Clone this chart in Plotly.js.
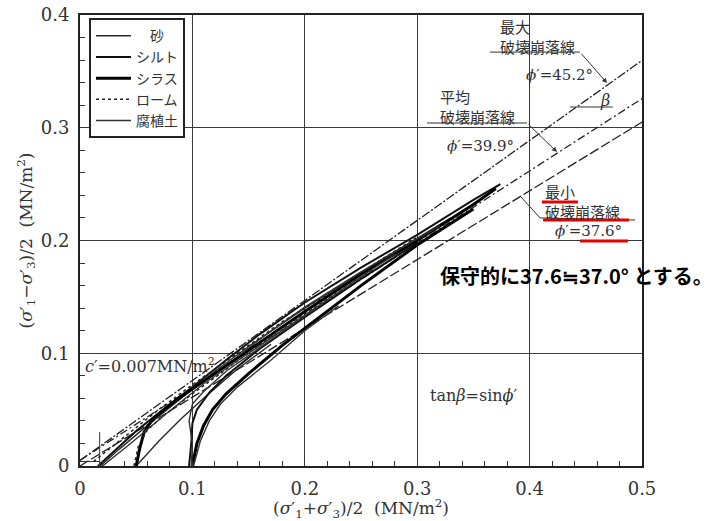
<!DOCTYPE html>
<html><head><meta charset="utf-8">
<script src="https://cdn.plot.ly/plotly-3.0.1.min.js"></script>
<style>html,body{margin:0;padding:0;background:#fff}#c{width:713px;height:521px}</style>
</head><body><div id="c"></div>
<script>
// ---- tick labels ----
const xTickVals = [0, 0.1, 0.2, 0.3, 0.4, 0.5];
const xTickText = ['0', '0.1', '0.2', '0.3', '0.4', '0.5'];
const yTickVals = [0, 0.1, 0.2, 0.3, 0.4];
const yTickText = ['0', '0.1', '0.2', '0.3', '0.4'];

// ---- failure envelopes (φ' in degrees, intercept a in MN/m²) ----
const envNames = ['最大破壊崩落線', '平均破壊崩落線', '最小破壊崩落線'];
const envPhi = [45.2, 39.9, 37.6];
const envIntercept = [0.0049, 0.0051, 0.0];
const envXStart = [0, 0, 0];
const envXEnd = [0.5, 0.5, 0.5];

// ---- stress paths (null separates paths) ----
const soilNames = ['　砂', 'シルト', 'シラス', 'ローム', '腐植土'];
const sandX = [0.018, 0.035, 0.06, 0.09, 0.12, 0.15, 0.2, 0.25, 0.3, 0.33, null,
               0.05, 0.07, 0.09, 0.11, 0.14, 0.17];
const sandY = [0, 0.015, 0.036, 0.06, 0.084, 0.106, 0.14, 0.172, 0.202, 0.22, null,
               0, 0.022, 0.042, 0.06, 0.086, 0.108];
const siltX = [0.016, 0.03, 0.05, 0.08, 0.1, 0.13, 0.16, 0.2, 0.25, 0.3, 0.35, 0.374, 0.366, null,
               0.097, 0.099, 0.1, 0.104, 0.115, 0.13, 0.16, 0.2, 0.25, 0.3];
const siltY = [0, 0.013, 0.031, 0.055, 0.07, 0.094, 0.117, 0.145, 0.176, 0.205, 0.236, 0.25, 0.245, null,
               0, 0.02, 0.038, 0.05, 0.065, 0.08, 0.104, 0.132, 0.166, 0.198];
const shirasuX = [0.05, 0.053, 0.057, 0.065, 0.085, 0.12, 0.16, 0.2, 0.25, 0.3, 0.35, 0.37, null,
                  0.1, 0.104, 0.11, 0.118, 0.13, 0.15, 0.18, 0.21, 0.25, 0.3, 0.35];
const shirasuY = [0, 0.015, 0.03, 0.042, 0.058, 0.082, 0.11, 0.137, 0.17, 0.2, 0.232, 0.246, null,
                  0, 0.02, 0.036, 0.05, 0.064, 0.082, 0.107, 0.13, 0.16, 0.196, 0.228];
const loamX = [0.012, 0.04, 0.07, 0.1, 0.14, 0.18, 0.22, 0.26, 0.3, null,
               0.048, 0.052, 0.06, 0.075, 0.1, 0.14, 0.18, 0.22, 0.26];
const loamY = [0.004, 0.026, 0.05, 0.072, 0.1, 0.128, 0.152, 0.178, 0.203, null,
               0, 0.018, 0.032, 0.045, 0.064, 0.093, 0.122, 0.148, 0.174];
const humusX = [0.02, 0.045, 0.075, 0.11, 0.15, 0.2, 0.25, 0.28, null,
                0.099, 0.1, 0.097, 0.1, 0.11, 0.13, 0.17, 0.21, null,
                0.101, 0.107, 0.115, 0.125, 0.14, 0.17, 0.2, 0.23, null,
                0.14, 0.17, 0.2, 0.24, 0.28, 0.32];
const humusY = [0, 0.02, 0.045, 0.073, 0.1, 0.134, 0.168, 0.188, null,
                0, 0.02, 0.04, 0.055, 0.066, 0.084, 0.112, 0.14, null,
                0, 0.022, 0.04, 0.055, 0.07, 0.094, 0.12, 0.142, null,
                0.097, 0.12, 0.141, 0.166, 0.19, 0.213];

// ---- α marker near origin ----
const alphaMarkX = [0.0175, 0.0175];
const alphaMarkY = [-0.004, 0.03];

const soilX = [sandX, siltX, shirasuX, loamX, humusX];
const soilY = [sandY, siltY, shirasuY, loamY, humusY];
const soilStyle = [
  {color: '#2a2a2a', width: 1.4},
  {color: '#111', width: 2},
  {color: '#000', width: 3},
  {color: '#222', width: 1.5, dash: 'dot'},
  {color: '#333', width: 1.4}
];
const envStyle = [
  {color: '#222', width: 1.3, dash: '9px,2px,2px,2px'},
  {color: '#222', width: 1.3, dash: '8px,3px,2px,3px'},
  {color: '#222', width: 1.3, dash: '10px,3px'}
];

const traces = [];
for (let i = 0; i < envNames.length; i++) {
  const s = Math.sin(envPhi[i] * Math.PI / 180);
  traces.push({
    x: [envXStart[i], envXEnd[i]],
    y: [envIntercept[i] + s * envXStart[i], envIntercept[i] + s * envXEnd[i]],
    mode: 'lines', line: envStyle[i], showlegend: false, hoverinfo: 'skip', name: envNames[i]
  });
}
for (let i = 0; i < soilNames.length; i++) {
  traces.push({
    x: soilX[i], y: soilY[i], name: soilNames[i], mode: 'lines',
    line: soilStyle[i], connectgaps: false
  });
}
traces.push({x: alphaMarkX, y: alphaMarkY, mode: 'lines', line: {color: '#333', width: 1},
  showlegend: false, hoverinfo: 'skip', cliponaxis: false});

const serif = 'DejaVu Serif, Liberation Serif, serif';
const jp = 'Noto Sans CJK JP, sans-serif';
const tc = '#333';

function txt(x, y, text, opts) {
  return Object.assign({x: x, y: y, xref: 'x', yref: 'y', text: text, showarrow: false,
    font: {family: jp, size: 15, color: tc}, xanchor: 'left', yanchor: 'middle', align: 'left'}, opts || {});
}
function arrow(x, y, ax, ay, head) {
  return {x: x, y: y, ax: ax, ay: ay, xref: 'x', yref: 'y', axref: 'x', ayref: 'y', text: '',
    showarrow: true, arrowhead: head, arrowsize: 1, arrowwidth: 1, arrowcolor: '#333'};
}
function seg(x0, y0, x1, y1, color, width) {
  return {type: 'line', xref: 'x', yref: 'y', x0: x0, y0: y0, x1: x1, y1: y1,
    line: {color: color || '#333', width: width || 1}};
}
const phiFont = {family: serif, size: 15, color: tc};

const annotations = [
  txt(0.372, 0.381, '最大<br>破壊崩落線'),
  txt(0.427, 0.3468, '<i>ϕ</i>′=45.2°', {xanchor: 'center', font: phiFont}),
  txt(0.467, 0.3245, '<i>β</i>', {xanchor: 'center', font: {family: serif, size: 16, color: tc}}),
  txt(0.3185, 0.319, '平均<br>破壊崩落線'),
  txt(0.356, 0.2838, '<i>ϕ</i>′=39.9°', {xanchor: 'center', font: phiFont}),
  txt(0.412, 0.2345, '最小<br>破壊崩落線'),
  txt(0.452, 0.2084, '<i>ϕ</i>′=37.6°', {xanchor: 'center', font: phiFont}),
  txt(0.3185, 0.1694, '<b>保守的に37.6≒37.0° とする。</b>', {font: {family: jp, size: 20, color: '#000'}}),
  txt(0.0027, 0.0887, '<i>c</i>′=0.007MN/m<sup>2</sup>', {font: {family: serif, size: 16, color: tc}}),
  txt(0.3497, 0.0621, 'tan<i>β</i>=sin<i>ϕ</i>′', {xanchor: 'center', font: {family: serif, size: 16, color: tc}}),
  txt(0.049, -0.0373, '<i>α</i>=0.0051', {xanchor: 'center', font: phiFont}),
  arrow(0.4689, 0.3396, 0.4448, 0.3671, 2),
  arrow(0.4244, 0.2785, 0.3977, 0.3042, 2)
];

const shapes = [
  seg(0.3648, 0.3671, 0.4448, 0.3671),
  seg(0.3087, 0.3042, 0.3977, 0.3042),
  seg(0.436, 0.3184, 0.474, 0.3184),
  seg(0.3915, 0.2395, 0.4093, 0.22),
  seg(0.4093, 0.22, 0.4938, 0.2182),
  seg(0, 0.004, 0.0175, 0.004),
  seg(0.411, 0.2341, 0.443, 0.2341, '#e60000', 3),
  seg(0.412, 0.2182, 0.4884, 0.2182, '#e60000', 3),
  seg(0.4448, 0.1996, 0.4875, 0.1996, '#e60000', 3)
];

const axisCommon = {
  ticks: 'inside', ticklen: 5, tickcolor: '#333', tickwidth: 1,
  showgrid: true, gridcolor: '#3a3a3a', gridwidth: 1.1,
  showline: true, linecolor: '#222', linewidth: 2, mirror: true, zeroline: false,
  tickfont: {family: serif, size: 18, color: tc}, automargin: false, fixedrange: true
};

const layout = {
  width: 713, height: 521,
  margin: {l: 80, r: 71, t: 15, b: 55},
  paper_bgcolor: '#fff', plot_bgcolor: '#fff',
  showlegend: true,
  legend: {x: 0.016, y: 0.993, xanchor: 'left', yanchor: 'top', bgcolor: '#fff',
    bordercolor: '#222', borderwidth: 2, itemwidth: 35,
    font: {family: jp, size: 14, color: tc}, tracegroupgap: 0},
  xaxis: Object.assign({}, axisCommon, {
    range: [0, 0.5], tickmode: 'array', tickvals: xTickVals, ticktext: xTickText,
    ticklabelstandoff: 5,
    minor: {tickmode: 'linear', tick0: 0, dtick: 0.02, ticks: 'inside', ticklen: 5, tickcolor: '#333', showgrid: false},
    title: {text: '(<i>σ</i>′<sub>1</sub>+<i>σ</i>′<sub>3</sub>)/2  (MN/m<sup>2</sup>)', standoff: 2,
      font: {family: serif, size: 17, color: tc}}
  }),
  yaxis: Object.assign({}, axisCommon, {
    range: [0, 0.4], tickmode: 'array', tickvals: yTickVals, ticktext: yTickText,
    ticklabelstandoff: 5,
    minor: {tickmode: 'linear', tick0: 0, dtick: 0.02, ticks: 'inside', ticklen: 5, tickcolor: '#333', showgrid: false},
    title: {text: '(<i>σ</i>′<sub>1</sub>−<i>σ</i>′<sub>3</sub>)/2  (MN/m<sup>2</sup>)', standoff: 4,
      font: {family: serif, size: 17, color: tc}}
  }),
  annotations: annotations,
  shapes: shapes
};

Plotly.newPlot('c', traces, layout, {displayModeBar: false, staticPlot: true});
</script>
</body></html>
